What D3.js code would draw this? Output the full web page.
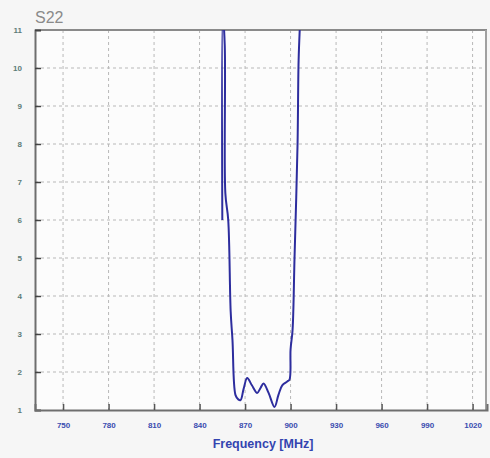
<!DOCTYPE html>
<html>
<head>
<meta charset="utf-8">
<script src="https://cdn.jsdelivr.net/npm/d3@7"></script>
<style>
  html, body { margin: 0; padding: 0; background: #f6f6f6; }
  svg { display: block; }
</style>
</head>
<body>
<svg id="chart"></svg>
<script>
// S22 trace, frequency in MHz vs. magnitude (VSWR-like)
const freqTicks = [750, 780, 810, 840, 870, 900, 930, 960, 990, 1020];
const valueTicks = [1, 2, 3, 4, 5, 6, 7, 8, 9, 10, 11];
const freqs = [855.0, 855.3, 856.6, 857.0, 858.9, 860.5, 861.7, 863.7, 865.5, 867.0, 869.0,
  871.4, 874.5, 878.0, 880.2, 882.2, 885.5, 889.4, 892.0, 894.5, 897.8, 899.3, 900.0, 901.3,
  902.6, 904.6, 905.3, 906.6];
const values = [6.0, 11.4, 10.6, 6.7, 6.0, 3.6, 2.84, 1.39, 1.28, 1.26, 1.55,
  1.84, 1.65, 1.45, 1.58, 1.7, 1.45, 1.08, 1.4, 1.65, 1.75, 1.8, 2.6, 3.1,
  5.0, 8.0, 10.2, 11.5];

const width = 490, height = 458;
const margin = {top: 30, right: 3, bottom: 48, left: 35};

const svg = d3.select("#chart").attr("width", width).attr("height", height);

const x = d3.scaleLinear().domain([731.5, 1029.5]).range([margin.left, width - margin.right]);
const y = d3.scaleLinear().domain([1, 11]).range([height - margin.bottom, margin.top]);

// plot background
svg.append("rect")
  .attr("x", x.range()[0]).attr("y", y.range()[1])
  .attr("width", x.range()[1] - x.range()[0])
  .attr("height", y.range()[0] - y.range()[1])
  .attr("fill", "#fcfcfc");

// grid
const grid = svg.append("g")
  .attr("stroke", "#b8b8b8").attr("stroke-width", 1).attr("stroke-dasharray", "3,3");
grid.selectAll("line.v").data(freqTicks).join("line")
  .attr("class", "v")
  .attr("x1", d => x(d)).attr("x2", d => x(d))
  .attr("y1", y(11)).attr("y2", y(1));
grid.selectAll("line.h").data(valueTicks.slice(1, -1)).join("line")
  .attr("class", "h")
  .attr("y1", d => y(d)).attr("y2", d => y(d))
  .attr("x1", x.range()[0]).attr("x2", x.range()[1]);

// frame
svg.append("line").attr("x1", x.range()[0]).attr("x2", x.range()[1])
  .attr("y1", y(11)).attr("y2", y(11)).attr("stroke", "#8a8a8a").attr("stroke-width", 2);
svg.append("line").attr("x1", x.range()[1] - 1).attr("x2", x.range()[1] - 1)
  .attr("y1", y(11)).attr("y2", y(1)).attr("stroke", "#a0a0a0").attr("stroke-width", 2);

// axes
const yAxis = d3.axisRight(y).tickValues(valueTicks).tickSize(6).tickFormat(d3.format("d"));
const gy = svg.append("g").attr("transform", `translate(${x.range()[0]},0)`).call(yAxis);
gy.select(".domain").attr("stroke", "#6e6e6e").attr("stroke-width", 2);
gy.selectAll(".tick line").attr("stroke", "#444").attr("stroke-width", 1.5);
gy.selectAll(".tick text")
  .attr("x", -13).attr("text-anchor", "end")
  .attr("fill", "#5c7c78").attr("font-family", "Liberation Sans, Arial, sans-serif")
  .attr("font-size", 8).attr("font-weight", "bold");

const xAxis = d3.axisTop(x).tickValues(freqTicks).tickSize(6).tickFormat(d3.format("d"));
const gx = svg.append("g").attr("transform", `translate(0,${y(1)})`).call(xAxis);
gx.select(".domain").attr("stroke", "#6e6e6e").attr("stroke-width", 2);
gx.selectAll(".tick line").attr("stroke", "#555").attr("stroke-width", 1.5);
gx.selectAll(".tick text")
  .attr("y", 18).attr("dy", 0)
  .attr("fill", "#3a4cb0").attr("font-family", "Liberation Sans, Arial, sans-serif")
  .attr("font-size", 8).attr("font-weight", "bold");

// trace
svg.append("clipPath").attr("id", "clip")
  .append("rect")
  .attr("x", x.range()[0]).attr("y", y.range()[1])
  .attr("width", x.range()[1] - x.range()[0])
  .attr("height", y.range()[0] - y.range()[1]);

const line = d3.line()
  .x((d, i) => x(freqs[i]))
  .y(d => y(d))
  .curve(d3.curveMonotoneX);

svg.append("path")
  .datum(values)
  .attr("clip-path", "url(#clip)")
  .attr("fill", "none")
  .attr("stroke", "#2d2d9e")
  .attr("stroke-width", 2)
  .attr("d", d3.line().x((d, i) => x(freqs[i])).y(d => y(d)).curve(d3.curveCatmullRom.alpha(0.5)));

// titles
svg.append("text")
  .attr("x", 35).attr("y", 23)
  .attr("fill", "#8a8a8a").attr("font-family", "Liberation Sans, Arial, sans-serif")
  .attr("font-size", 16)
  .text("S22");

svg.append("text")
  .attr("x", 263).attr("y", 448)
  .attr("text-anchor", "middle")
  .attr("fill", "#3344b0").attr("font-family", "Liberation Sans, Arial, sans-serif")
  .attr("font-size", 12.5).attr("font-weight", "bold")
  .text("Frequency [MHz]");
</script>
</body>
</html>
